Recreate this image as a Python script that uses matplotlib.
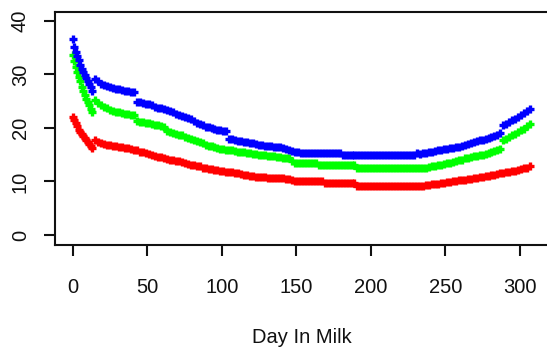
import numpy as np
import matplotlib
matplotlib.use('Agg')
import matplotlib.pyplot as plt

plt.rcParams['font.family'] = ['Liberation Sans', 'DejaVu Sans']

# days: daily for the first two weeks, then every other day
days = list(range(0, 14)) + list(range(15, 308, 2))

blue = [36.6, 35.2, 34.2, 33.4, 32.7, 31.8, 31.1, 30.5, 29.9, 29.3, 28.7, 28.2, 27.6, 26.9,
        29.2, 28.8, 28.3, 28.0, 27.8, 27.6, 27.4, 27.3, 27.2, 27.1, 27.0, 26.9, 26.8, 26.8,
        24.9, 24.8, 24.6, 24.5, 24.4, 24.2, 24.0, 23.8, 23.7, 23.5,
        23.3, 23.1, 22.9, 22.7, 22.5, 22.3, 22.1, 21.9, 21.6, 21.3,
        21.0, 20.8, 20.5, 20.2, 20.1, 20.0, 19.9, 19.7, 19.6, 19.5, 19.4,
        18.0, 17.9, 17.8, 17.6, 17.5, 17.4, 17.3, 17.2, 17.1, 17.0,
        16.9, 16.8, 16.7, 16.7, 16.6, 16.5, 16.5, 16.4, 16.2, 16.0,
        15.8, 15.7, 15.6, 15.5, 15.4, 15.4, 15.3, 15.3, 15.3, 15.3,
        15.3, 15.3, 15.3, 15.3, 15.3, 15.3, 15.3, 15.3,
        15.0, 15.0, 15.0, 15.0, 15.0, 15.0, 15.0, 15.0, 15.0, 15.0,
        15.0, 15.0, 15.0, 15.0, 15.0, 15.0, 15.0, 15.0, 15.0, 15.0,
        15.0, 15.0, 15.0, 15.0, 15.0,
        15.4, 15.2, 15.3, 15.4, 15.5, 15.6, 15.7, 15.8, 15.9, 16.0,
        16.1, 16.2, 16.3, 16.4, 16.5, 16.7, 16.8, 17.0, 17.1, 17.3,
        17.5, 17.7, 17.8, 18.0, 18.1, 18.3, 18.5, 18.7, 19.0, 20.6,
        20.8, 21.1, 21.4, 21.7, 22.0, 22.4, 22.8, 23.2, 23.6]

green = [33.6, 32.5, 31.4, 30.5, 29.6, 28.7, 27.7, 27.0, 26.2, 25.5, 24.9, 24.3, 23.6, 22.9,
         25.2, 24.7, 24.3, 24.0, 23.7, 23.4, 23.2, 23.0, 22.9, 22.8, 22.7, 22.6, 22.5, 22.4,
         21.3, 21.2, 21.1, 21.0, 20.9, 20.8, 20.6, 20.5, 20.3, 20.2,
         19.4, 19.2, 19.0, 18.9, 18.7, 18.6, 18.4, 18.2, 18.0, 17.8,
         17.5, 17.3, 17.1, 16.9, 16.7, 16.6, 16.4, 16.3, 16.1, 16.0, 15.9,
         15.8, 15.8, 15.7, 15.6, 15.5, 15.5, 15.4, 15.3, 15.2, 15.1,
         15.0, 15.0, 14.9, 14.8, 14.7, 14.7, 14.6, 14.5, 14.4, 14.4,
         14.3, 13.8, 13.5, 13.5, 13.5, 13.5, 13.5, 13.5, 13.5, 13.4,
         13.1, 13.1, 13.1, 13.1, 13.1, 13.1, 13.1, 13.1,
         13.1, 13.1, 13.1, 13.1, 13.1,
         12.5, 12.5, 12.5, 12.5, 12.5, 12.5, 12.5, 12.5, 12.5, 12.5,
         12.5, 12.5, 12.5, 12.5, 12.5, 12.5, 12.5, 12.5, 12.5, 12.5,
         12.5, 12.5, 12.6, 12.6, 12.7, 12.8, 12.9, 13.0, 13.1, 13.3,
         13.4, 13.5, 13.6, 13.8, 14.0, 14.1, 14.3, 14.4, 14.5, 14.7,
         14.8, 14.9, 15.0, 15.2, 15.3, 15.5, 15.7, 15.9, 16.1, 17.8,
         18.0, 18.3, 18.6, 18.9, 19.2, 19.6, 19.9, 20.3, 20.7]

red = [22.1, 21.5, 20.9, 20.3, 19.7, 19.2, 18.9, 18.5, 18.1, 17.8, 17.4, 17.0, 16.7, 16.3,
       17.8, 17.4, 17.2, 17.0, 16.9, 16.8, 16.7, 16.6, 16.5, 16.4, 16.3, 16.2, 16.0, 15.9,
       15.8, 15.6, 15.5, 15.3, 15.1, 14.9, 14.7, 14.6, 14.5, 14.3,
       14.2, 14.1, 14.0, 13.9, 13.8, 13.6, 13.4, 13.3, 13.1, 13.0,
       12.9, 12.8, 12.6, 12.5, 12.4, 12.3, 12.2, 12.1, 12.0, 11.9, 11.8,
       11.8, 11.7, 11.6, 11.5, 11.4, 11.3, 11.2, 11.1, 11.0, 10.9,
       10.9, 10.8, 10.8, 10.7, 10.7, 10.7, 10.6, 10.6, 10.6, 10.5,
       10.4, 10.2, 10.1, 10.1, 10.1, 10.1, 10.1, 10.1, 10.1, 10.1,
       10.1, 10.1, 9.8, 9.8, 9.8, 9.8, 9.8, 9.8,
       9.8, 9.8, 9.8, 9.8, 9.8,
       9.2, 9.2, 9.2, 9.2, 9.2, 9.2, 9.2, 9.2, 9.2, 9.2,
       9.2, 9.2, 9.2, 9.2, 9.2, 9.2, 9.2, 9.2, 9.2, 9.2,
       9.2, 9.2, 9.2, 9.3, 9.4, 9.5, 9.5, 9.6, 9.7, 9.8,
       9.9, 9.9, 10.0, 10.1, 10.2, 10.2, 10.3, 10.4, 10.5, 10.6,
       10.7, 10.8, 10.9, 11.0, 11.1, 11.2, 11.3, 11.4, 11.5, 11.6,
       11.7, 11.8, 11.9, 12.0, 12.1, 12.3, 12.5, 12.6, 12.8]

x_ticks = [0, 50, 100, 150, 200, 250, 300]
y_ticks = [0, 10, 20, 30, 40]

fig = plt.figure(figsize=(5.47, 3.47), dpi=100)
ax = fig.add_axes([0.1005, 0.294, 0.9015, 0.6715])

for vals, col in [(red, '#ff0000'), (green, '#00ff00'), (blue, '#0000ff')]:
    ax.plot(days, vals, linestyle='none', marker='+', color=col, markersize=6, markeredgewidth=2.4)

ax.set_xlim(-12.1, 319.0)
ax.set_ylim(-1.87, 41.68)
ax.set_xticks(x_ticks)
ax.set_yticks(y_ticks)
ax.set_yticklabels([str(v) for v in y_ticks], rotation=90, va='center')
ax.tick_params(axis='both', direction='out', length=8, width=1.5, labelsize=14.5, colors='#111111')
ax.tick_params(axis='x', pad=16)
ax.tick_params(axis='y', pad=10)
for s in ax.spines.values():
    s.set_linewidth(1.5)
    s.set_color('#111111')
ax.set_xlabel('Day In Milk', fontsize=14.5, labelpad=22, color='#111111')

plt.savefig('out.png', dpi=100)
